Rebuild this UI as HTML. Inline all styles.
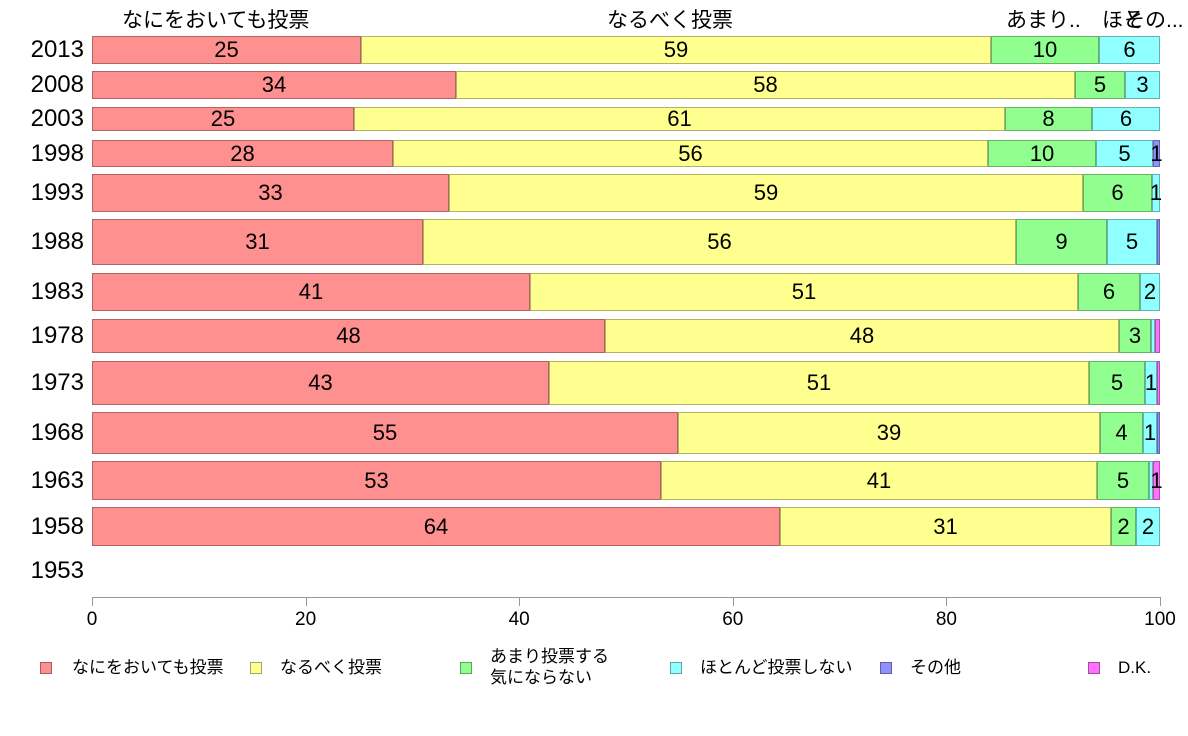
<!DOCTYPE html>
<html><head><meta charset="utf-8"><style>
body{margin:0;width:1188px;height:736px;background:#fff;position:relative;overflow:hidden;font-family:"Liberation Sans","Noto Sans CJK JP",sans-serif;color:#000}
.s{position:absolute;box-sizing:border-box;border:1px solid rgba(0,0,0,0.3);display:flex;align-items:center;justify-content:center;font-size:22px;overflow:visible;white-space:nowrap}
.y{position:absolute;left:0;width:84px;text-align:right;font-size:24px}
.t{position:absolute;font-size:21px;white-space:nowrap}
.lg{position:absolute;font-size:17px;white-space:nowrap;line-height:21px}
.sw{position:absolute;width:12px;height:12px;box-sizing:border-box;border:1px solid rgba(0,0,0,0.35)}
</style></head><body>
<div class="t" style="left:122px;top:4px">なにをおいても投票</div>
<div class="t" style="left:607px;top:4px">なるべく投票</div>
<div class="t" style="left:1006px;top:4px">あまり..</div>
<div class="t" style="left:1102px;top:4px">ほと</div>
<div class="t" style="left:1124px;top:4px">その...</div>
<div id="c"></div>
<div style="position:absolute;left:92px;top:597px;width:1068px;height:1px;background:#999"></div>
<script>
var cols=['#ff9090','#ffff90','#90ff90','#90ffff','#9090ff','#ff70ff'];
var rows=[
['2013',36,64,[[361,0,'25'],[991,1,'59'],[1099,2,'10'],[1160,3,'6']]],
['2008',71,99,[[456,0,'34'],[1075,1,'58'],[1125,2,'5'],[1160,3,'3']]],
['2003',107,131,[[354,0,'25'],[1005,1,'61'],[1092,2,'8'],[1160,3,'6']]],
['1998',140,167,[[393,0,'28'],[988,1,'56'],[1096,2,'10'],[1153,3,'5'],[1160,4,'1']]],
['1993',174,212,[[449,0,'33'],[1083,1,'59'],[1152,2,'6'],[1160,3,'1']]],
['1988',219,265,[[423,0,'31'],[1016,1,'56'],[1107,2,'9'],[1157,3,'5'],[1160,4,'']]],
['1983',273,311,[[530,0,'41'],[1078,1,'51'],[1140,2,'6'],[1160,3,'2']]],
['1978',319,353,[[605,0,'48'],[1119,1,'48'],[1151,2,'3'],[1155,3,''],[1160,5,'']]],
['1973',361,405,[[549,0,'43'],[1089,1,'51'],[1145,2,'5'],[1157,3,'1'],[1160,5,'']]],
['1968',412,454,[[678,0,'55'],[1100,1,'39'],[1143,2,'4'],[1157,3,'1'],[1160,4,'']]],
['1963',461,500,[[661,0,'53'],[1097,1,'41'],[1149,2,'5'],[1153,3,''],[1160,5,'1']]],
['1958',507,546,[[780,0,'64'],[1111,1,'31'],[1136,2,'2'],[1160,3,'2']]]
];
var h='';
rows.forEach(function(r){
 var x=92;
 h+='<div class="y" style="top:'+((r[1]+r[2])/2-14)+'px">'+r[0]+'</div>';
 r[3].forEach(function(s){
  h+='<div class="s" style="left:'+x+'px;top:'+r[1]+'px;width:'+(s[0]-x)+'px;height:'+(r[2]-r[1])+'px;background:'+cols[s[1]]+'">'+s[2]+'</div>';
  x=s[0];
 });
});
h+='<div class="y" style="top:557px">1953</div>';
[0,20,40,60,80,100].forEach(function(v){
 var x=92+v*10.68;
 h+='<div style="position:absolute;left:'+x+'px;top:597px;width:1px;height:9px;background:#999"></div>';
 h+='<div class="t" style="left:'+(x-30)+'px;width:60px;text-align:center;top:609px;font-size:19px">'+v+'</div>';
});
var lg=[[40,72,'なにをおいても投票'],[250,280,'なるべく投票'],[460,490,'あまり投票する<br>気にならない'],[670,700,'ほとんど投票しない'],[880,910,'その他'],[1088,1118,'D.K.']];
lg.forEach(function(l,i){
 h+='<div class="sw" style="left:'+l[0]+'px;top:662px;background:'+cols[i]+'"></div>';
 h+='<div class="lg" style="left:'+l[1]+'px;top:'+(i==2?646:657)+'px">'+l[2]+'</div>';
});
document.getElementById('c').innerHTML=h;
</script>
</body></html>
